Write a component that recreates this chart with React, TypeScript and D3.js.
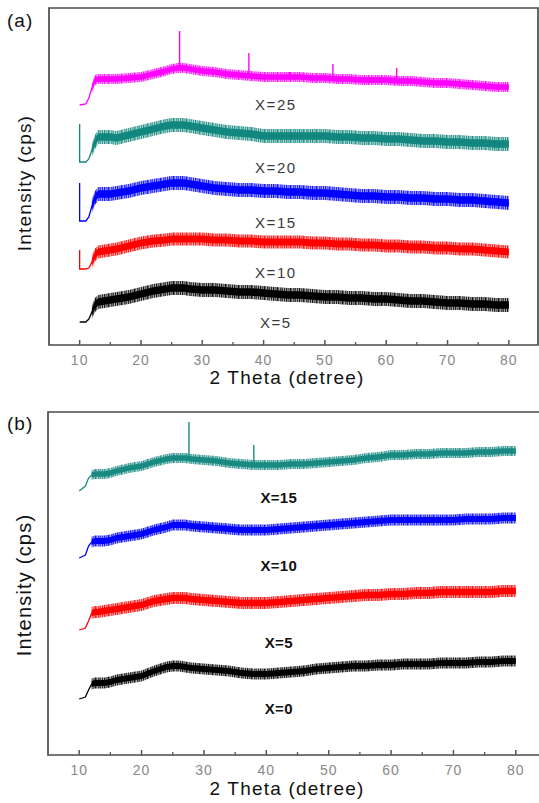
import React from "react";
import * as d3 from "d3";

// ---------- DATA ----------
// 2θ sample positions (degrees); 10 appears twice so a vertical jump at the scan start can be drawn
const ANGLES = [10, 10, 11, 11.5, 12, 12.5, 13, 14, 15, 16, 18, 20, 22, 24, 25, 26, 27, 28, 30, 32, 34, 36, 38, 40,
  42, 44, 46, 48, 50, 52, 54, 56, 58, 60, 62, 64, 66, 68, 70, 72, 74, 76, 78, 80];

// Panel (a) — intensity (a.u., stacked offsets included)
const A_LABELS = ["X=25", "X=20", "X=15", "X=10", "X=5"];
const A_X25 = [240, 240, 241, 247, 257, 265, 266, 266, 266, 266, 267, 268, 271, 274, 276, 277, 277, 276, 274, 273, 271, 270, 269, 268,
  268, 268, 268, 267, 267, 266, 266, 265, 265, 265, 264, 264, 263, 262, 262, 261, 260, 259, 258, 258];
const A_X20 = [221, 183, 183, 186, 195, 203, 208, 208, 208, 207, 210, 213, 216, 219, 220, 220, 220, 219, 217, 215, 213, 212, 211, 209,
  209, 209, 209, 209, 209, 208, 208, 207, 207, 206, 206, 205, 204, 204, 203, 203, 202, 202, 201, 201];
const A_X15 = [162, 124, 124, 128, 139, 147, 151, 151, 151, 152, 154, 157, 159, 161, 162, 162, 162, 161, 159, 157, 156, 155, 155, 154,
  154, 153, 153, 152, 152, 151, 150, 149, 149, 148, 148, 147, 147, 146, 146, 145, 145, 144, 143, 142];
const A_X10 = [95, 76, 76, 77, 83, 90, 93, 94, 95, 96, 99, 102, 104, 105, 106, 106, 106, 106, 106, 105, 105, 104, 104, 103,
  103, 103, 103, 102, 102, 101, 101, 100, 100, 99, 99, 98, 98, 97, 97, 96, 96, 95, 94, 93];
const A_X5 = [23, 23, 23, 26, 33, 40, 43, 44, 45, 46, 48, 51, 54, 56, 57, 57, 57, 56, 55, 55, 54, 53, 53, 52,
  51, 50, 50, 49, 48, 48, 47, 47, 46, 46, 45, 44, 44, 43, 42, 42, 41, 41, 40, 40];
const A_NOISE = [5, 7, 7, 6.5, 7]; // half amplitude of the noise band (a.u.)
// sharp reflections in panel (a): series index, angle, peak top
const A_PEAK_SERIES = [0, 0, 0, 0, 0];
const A_PEAK_ANGLES = [26.3, 37.6, 51.3, 61.7, 44.2];
const A_PEAK_TOPS = [314, 292, 281, 277, 273];

// Panel (b)
const B_LABELS = ["X=15", "X=10", "X=5", "X=0"];
const B_X15 = [264, 264, 269, 277, 280, 281, 281, 281, 282, 284, 287, 289, 293, 296, 297, 297, 297, 296, 295, 294, 292, 291, 290, 290,
  290, 291, 291, 292, 293, 294, 295, 297, 298, 300, 300, 301, 301, 302, 302, 302, 303, 303, 304, 304];
const B_X10 = [197, 197, 200, 209, 213, 214, 214, 214, 215, 217, 219, 221, 225, 228, 230, 230, 230, 229, 228, 227, 226, 225, 225, 225,
  226, 227, 228, 229, 230, 231, 232, 233, 234, 235, 235, 235, 235, 235, 235, 236, 236, 236, 237, 237];
const B_X5 = [125, 125, 127, 134, 142, 143, 143, 144, 145, 146, 148, 150, 154, 156, 157, 157, 157, 156, 155, 154, 153, 152, 152, 152,
  153, 154, 155, 156, 157, 158, 159, 160, 160, 161, 161, 162, 162, 163, 163, 163, 163, 163, 164, 164];
const B_X0 = [56, 56, 58, 65, 71, 72, 72, 72, 73, 75, 77, 79, 84, 88, 89, 89, 88, 87, 86, 85, 84, 82, 81, 81,
  82, 83, 84, 86, 87, 88, 89, 89, 90, 90, 91, 91, 91, 92, 92, 92, 93, 93, 94, 94];
const B_NOISE = [5, 5.5, 6, 5.5];
const B_PEAK_SERIES = [0, 0];
const B_PEAK_ANGLES = [27.6, 38.0];
const B_PEAK_TOPS = [333, 310];

const X_TICKS = [10, 20, 30, 40, 50, 60, 70, 80];
const X_MINOR = [15, 25, 35, 45, 55, 65, 75];
const X_DOMAIN = [5, 85];

// ---------- STYLE / LAYOUT ----------
const W = 539;
const H = 803;
const FONT = "'Liberation Sans', Arial, Helvetica, sans-serif";
const A_COLORS = ["#ff00ff", "#12877f", "#0000ff", "#ff0000", "#000000"];
const B_COLORS = ["#198a82", "#0000ff", "#ff0000", "#000000"];
// texture strokes for the fuzzy edge of each noise band (x offset, width) inside a 13px tile
const HATCH = [[0, 1.2], [2.5, 0.8], [4, 1.5], [7, 0.7], [8.6, 1.1], [11, 0.9]];

type PanelCfg = {
  id: string;
  left: number; right: number; frameRight: number; top: number; bottom: number;
  yMax: number; series: number[][]; labels: string[]; colors: string[]; noise: number[];
  peakSeries: number[]; peakAngles: number[]; peakTops: number[];
  labelAngle: number; labelY: number[]; labelStyle: any;
  tag: string; tagY: number; xTitleY: number; xTitleX: number; yTitleY: number; yTitleSize: number;
  tickLabelY: number;
};

function Panel({ cfg }: { cfg: PanelCfg }) {
  const x = d3.scaleLinear().domain(X_DOMAIN).range([cfg.left, cfg.right]);
  const y = d3.scaleLinear().domain([0, cfg.yMax]).range([cfg.bottom, cfg.top]);
  const line = d3.line<number>().x((_, i) => x(ANGLES[i])).y((v) => y(v));
  const bandStart = 4;
  const idx = d3.range(bandStart, ANGLES.length);
  const band = (vals: number[], hw: number) =>
    d3.area<number>()
      .x((i) => x(ANGLES[i]))
      .y0((i) => y(vals[i] - hw))
      .y1((i) => y(vals[i] + hw))(idx) || "";

  return (
    <g>
      <defs>
        {cfg.colors.map((c, s) => (
          <pattern key={s} id={`${cfg.id}-hatch-${s}`} patternUnits="userSpaceOnUse" width={13} height={5}>
            <rect x={0} y={0} width={13} height={5} fill={c} opacity={0.35} />
            {HATCH.map(([hx, hw], k) => (
              <rect key={k} x={hx} y={0} width={hw} height={5} fill={c} opacity={0.85} />
            ))}
          </pattern>
        ))}
      </defs>
      {/* series */}
      {cfg.series.map((vals, s) => (
        <g key={s}>
          <path d={band(vals, cfg.noise[s])} fill={`url(#${cfg.id}-hatch-${s})`} />
          <path d={band(vals, cfg.noise[s] * 0.55)} fill={cfg.colors[s]} />
          <path d={line(vals) || ""} fill="none" stroke={cfg.colors[s]} strokeWidth={1.3} />
        </g>
      ))}
      {cfg.peakAngles.map((a, k) => {
        const s = cfg.peakSeries[k];
        const i = d3.bisectLeft(ANGLES, a, 2);
        const base = cfg.series[s][Math.min(i, ANGLES.length - 1)];
        return (
          <line key={k} x1={x(a)} x2={x(a)} y1={y(base)} y2={y(cfg.peakTops[k])}
            stroke={cfg.colors[s]} strokeWidth={1.4} />
        );
      })}
      {/* series labels */}
      {cfg.labels.map((t, s) => (
        <text key={t} x={x(cfg.labelAngle)} y={y(cfg.labelY[s])}
          textAnchor="middle" dominantBaseline="central" {...cfg.labelStyle}>{t}</text>
      ))}
      {/* frame */}
      <path d={`M${cfg.left},${cfg.top}H${cfg.frameRight}V${cfg.bottom}H${cfg.left}Z`} fill="none" stroke="#4a4a4a" strokeWidth={1.7} />
      {/* ticks */}
      {X_TICKS.map((t) => (
        <g key={t}>
          <line x1={x(t)} x2={x(t)} y1={cfg.bottom} y2={cfg.bottom - 5} stroke="#555" strokeWidth={1.5} />
          <text x={x(t)} y={cfg.tickLabelY} textAnchor="middle" fontFamily={FONT} fontSize={14}
            fill="#888" letterSpacing={1}>{t}</text>
        </g>
      ))}
      {X_MINOR.map((t) => (
        <line key={t} x1={x(t)} x2={x(t)} y1={cfg.bottom} y2={cfg.bottom - 3} stroke="#555" strokeWidth={1.3} />
      ))}
      {/* titles */}
      <text x={cfg.xTitleX} y={cfg.xTitleY} textAnchor="middle" fontFamily={FONT} fontSize={19}
        letterSpacing={1.2} fill="#111">2 Theta (detree)</text>
      <text transform={`translate(31,${cfg.yTitleY}) rotate(-90)`} textAnchor="middle" fontFamily={FONT}
        fontSize={cfg.yTitleSize} letterSpacing={1.2} fill="#111">Intensity (cps)</text>
      <text x={7} y={cfg.tagY} fontFamily={FONT} fontSize={19} letterSpacing={1} fill="#111">{cfg.tag}</text>
    </g>
  );
}

export default function App() {
  const cfgA: PanelCfg = {
    id: "pa",
    left: 49, right: 539.5, frameRight: 538, top: 8, bottom: 345, yMax: 337,
    series: [A_X25, A_X20, A_X15, A_X10, A_X5], labels: A_LABELS, colors: A_COLORS, noise: A_NOISE,
    peakSeries: A_PEAK_SERIES, peakAngles: A_PEAK_ANGLES, peakTops: A_PEAK_TOPS,
    labelAngle: 42, labelY: [241, 178, 123, 73, 23],
    labelStyle: { fontFamily: FONT, fontSize: 15, letterSpacing: 1.6, fill: "#3a3a3a" },
    tag: "(a)", tagY: 27, xTitleX: 287, xTitleY: 384, yTitleY: 183, yTitleSize: 19, tickLabelY: 365,
  };
  const cfgB: PanelCfg = {
    id: "pb",
    left: 48, right: 547, frameRight: 560, top: 412, bottom: 755, yMax: 343,
    series: [B_X15, B_X10, B_X5, B_X0], labels: B_LABELS, colors: B_COLORS, noise: B_NOISE,
    peakSeries: B_PEAK_SERIES, peakAngles: B_PEAK_ANGLES, peakTops: B_PEAK_TOPS,
    labelAngle: 42, labelY: [258, 190, 113, 47],
    labelStyle: { fontFamily: FONT, fontSize: 15, fontWeight: "bold", letterSpacing: 0.3, fill: "#111" },
    tag: "(b)", tagY: 430, xTitleX: 287, xTitleY: 795, yTitleY: 585, yTitleSize: 20, tickLabelY: 775,
  };
  return (
    <svg width={W} height={H} viewBox={`0 0 ${W} ${H}`}
      style={{ position: "absolute", left: 0, top: 0, background: "#fff" }}>
      <rect width={W} height={H} fill="#fff" />
      <Panel cfg={cfgA} />
      <Panel cfg={cfgB} />
    </svg>
  );
}
